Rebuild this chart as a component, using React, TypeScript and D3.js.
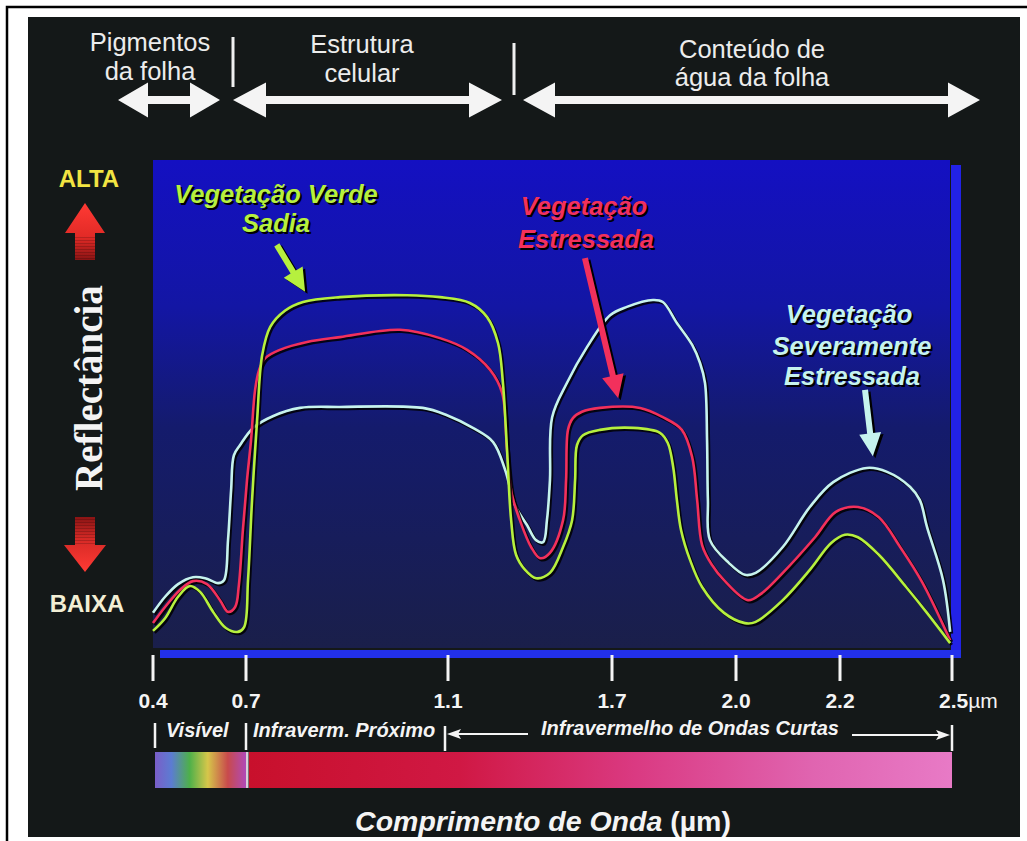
import React from "react";
import * as d3 from "d3";

// Wavelength axis (µm) – the axis is drawn piecewise, ticks are not evenly spaced
const WAVELENGTH_TICKS = [0.4, 0.7, 1.1, 1.7, 2.0, 2.2, 2.5];
const TICK_LABELS = ["0.4", "0.7", "1.1", "1.7", "2.0", "2.2", "2.5"];

// Healthy green vegetation (relative reflectance, 0–100)
const HEALTHY_WL = [0.4, 0.439, 0.481, 0.519, 0.552, 0.594, 0.635, 0.674, 0.694, 0.704, 0.712, 0.722, 0.732, 0.748, 0.777, 0.813, 0.886, 1.019, 1.084, 1.18, 1.243, 1.283, 1.301, 1.316, 1.331, 1.349, 1.382, 1.422, 1.473, 1.521, 1.554, 1.565, 1.572, 1.594, 1.656, 1.751, 1.816, 1.835, 1.848, 1.857, 1.867, 1.889, 1.918, 1.971, 2.017, 2.037, 2.09, 2.142, 2.183, 2.213, 2.248, 2.304, 2.377, 2.433, 2.495];
const HEALTHY_R = [3.5, 6.1, 10.5, 12.7, 11.5, 7.4, 4.1, 3.3, 4.3, 13.9, 30.3, 46.7, 60.0, 65.8, 69.1, 70.9, 71.9, 72.3, 71.9, 70.7, 67.8, 62.5, 54.3, 40.6, 26.2, 19.1, 16.0, 14.3, 15.4, 20.7, 26.2, 34.4, 41.6, 43.6, 44.7, 45.1, 44.1, 42.0, 37.1, 30.3, 24.2, 18.0, 12.5, 7.2, 5.1, 5.3, 9.8, 16.0, 21.5, 23.2, 22.7, 19.1, 12.5, 7.2, 1.0];

// Stressed vegetation
const STRESSED_WL = [0.4, 0.439, 0.487, 0.529, 0.574, 0.616, 0.642, 0.665, 0.677, 0.69, 0.702, 0.71, 0.718, 0.726, 0.738, 0.767, 0.821, 0.886, 1.005, 1.084, 1.17, 1.254, 1.298, 1.316, 1.334, 1.363, 1.404, 1.437, 1.473, 1.521, 1.532, 1.539, 1.557, 1.59, 1.656, 1.768, 1.823, 1.869, 1.894, 1.906, 1.918, 1.942, 1.971, 2.023, 2.048, 2.09, 2.152, 2.192, 2.248, 2.304, 2.361, 2.42, 2.495];
const STRESSED_R = [5.1, 8.4, 11.9, 13.7, 13.1, 9.8, 7.4, 8.4, 12.9, 24.2, 34.4, 42.6, 52.9, 57.0, 59.4, 61.1, 62.7, 63.7, 65.2, 63.5, 61.1, 57.0, 52.3, 40.6, 31.4, 26.2, 20.7, 18.4, 19.5, 26.2, 34.4, 44.7, 47.1, 48.4, 49.2, 49.2, 47.3, 44.7, 39.1, 30.3, 21.1, 17.0, 13.9, 9.8, 11.1, 15.4, 22.7, 27.9, 28.9, 26.8, 20.7, 13.5, 1.6];

// Severely stressed vegetation
const SEVERE_WL = [0.4, 0.439, 0.481, 0.529, 0.568, 0.61, 0.629, 0.642, 0.652, 0.661, 0.681, 0.714, 0.753, 0.807, 0.886, 1.05, 1.098, 1.191, 1.265, 1.309, 1.345, 1.389, 1.422, 1.448, 1.462, 1.473, 1.481, 1.535, 1.609, 1.693, 1.736, 1.799, 1.823, 1.857, 1.894, 1.913, 1.925, 1.93, 1.932, 1.937, 1.983, 2.017, 2.038, 2.09, 2.142, 2.187, 2.272, 2.326, 2.388, 2.414, 2.433, 2.476, 2.495];
const SEVERE_R = [7.2, 10.5, 13.1, 14.5, 14.3, 13.3, 13.9, 22.1, 32.4, 39.5, 41.6, 45.1, 47.5, 49.2, 49.4, 49.2, 47.7, 45.1, 42.2, 36.5, 29.3, 25.2, 22.1, 21.7, 26.2, 34.4, 47.3, 54.3, 61.7, 68.2, 69.9, 71.3, 70.9, 66.6, 62.1, 58.4, 54.3, 42.6, 30.3, 22.1, 17.4, 15.0, 15.4, 20.7, 28.9, 34.0, 36.9, 36.1, 33.0, 30.3, 24.8, 13.9, 3.3];

const SERIES = [
  { name: "Vegetação Severamente Estressada", wl: SEVERE_WL, r: SEVERE_R, color: "#c6f3ee" },
  { name: "Vegetação Estressada", wl: STRESSED_WL, r: STRESSED_R, color: "#f2305c" },
  { name: "Vegetação Verde Sadia", wl: HEALTHY_WL, r: HEALTHY_R, color: "#b6f03e" },
];

const SANS = "'Liberation Sans', Arial, Helvetica, sans-serif";
const SERIF = "'Liberation Serif', 'Times New Roman', serif";

function arrowPoints(x1: number, y1: number, x2: number, y2: number, shaft: number, headW: number, headL: number) {
  const dx = x2 - x1, dy = y2 - y1, L = Math.hypot(dx, dy);
  const ux = dx / L, uy = dy / L, nx = -uy, ny = ux;
  const bx = x2 - ux * headL, by = y2 - uy * headL;
  const pts = [
    [x1 + (nx * shaft) / 2, y1 + (ny * shaft) / 2],
    [bx + (nx * shaft) / 2, by + (ny * shaft) / 2],
    [bx + (nx * headW) / 2, by + (ny * headW) / 2],
    [x2, y2],
    [bx - (nx * headW) / 2, by - (ny * headW) / 2],
    [bx - (nx * shaft) / 2, by - (ny * shaft) / 2],
    [x1 - (nx * shaft) / 2, y1 - (ny * shaft) / 2],
  ];
  return pts.map((p) => p.join(",")).join(" ");
}

function doubleArrow(x1: number, x2: number, y: number, s: number, hw: number, hl: number) {
  const pts = [
    [x1, y], [x1 + hl, y - hw / 2], [x1 + hl, y - s / 2], [x2 - hl, y - s / 2], [x2 - hl, y - hw / 2],
    [x2, y], [x2 - hl, y + hw / 2], [x2 - hl, y + s / 2], [x1 + hl, y + s / 2], [x1 + hl, y + hw / 2],
  ];
  return pts.map((p) => p.join(",")).join(" ");
}

export default function App() {
  const plot = { left: 153, right: 950, top: 160, bottom: 648 };
  const x = d3.scaleLinear().domain(WAVELENGTH_TICKS).range([153, 246, 448, 612, 736, 840, 952]);
  const y = d3.scaleLinear().domain([0, 100]).range([plot.bottom, plot.top]);

  const line = d3
    .line<[number, number]>()
    .x((d) => x(d[0]))
    .y((d) => y(d[1]))
    .curve(d3.curveCatmullRom.alpha(0.5));

  const pathOf = (wl: number[], r: number[]) => line(wl.map((w, i) => [w, r[i]] as [number, number])) || "";

  // annotation arrows anchored in data space
  const annoArrows = [
    { from: [0.761, 82.6], to: [0.817, 73.0], color: "#b6f03e" },
    { from: [1.601, 79.9], to: [1.715, 51.2], color: "#f2305c" },
    { from: [2.267, 52.9], to: [2.288, 39.3], color: "#c6f3ee" },
  ];

  const shadow = "#000000";
  const labelStyle = { fontFamily: SANS, fontWeight: 700, fontStyle: "italic", fontSize: 25.5 } as const;

  const shadowText = (tx: number, ty: number, text: string, color: string, key: string) => (
    <g key={key}>
      <text x={tx + 2} y={ty + 2} textAnchor="middle" fill={shadow} style={labelStyle}>{text}</text>
      <text x={tx} y={ty} textAnchor="middle" fill={color} style={labelStyle}>{text}</text>
    </g>
  );

  const xMid = (x(1.1) + x(2.5)) / 2;

  return (
    <svg width={1027} height={841} style={{ position: "absolute", left: 0, top: 0, display: "block" }}>
      <defs>
        <linearGradient id="plotBg" x1="0" y1="0" x2="0" y2="1">
          <stop offset="0" stopColor="#1410c2" />
          <stop offset="0.3" stopColor="#1316a4" />
          <stop offset="0.55" stopColor="#141b6c" />
          <stop offset="1" stopColor="#1a1f4a" />
        </linearGradient>
        <linearGradient id="visible" x1="0" y1="0" x2="1" y2="0">
          <stop offset="0" stopColor="#7a5ec8" />
          <stop offset="0.18" stopColor="#5c7cd2" />
          <stop offset="0.38" stopColor="#4eb04a" />
          <stop offset="0.58" stopColor="#d6c64a" />
          <stop offset="0.8" stopColor="#c84a4c" />
          <stop offset="1" stopColor="#b04ab8" />
        </linearGradient>
        <linearGradient id="infrared" x1="0" y1="0" x2="1" y2="0">
          <stop offset="0" stopColor="#c8102c" />
          <stop offset="0.3" stopColor="#d01844" />
          <stop offset="0.55" stopColor="#da3a82" />
          <stop offset="0.8" stopColor="#e064b0" />
          <stop offset="1" stopColor="#e87ac6" />
        </linearGradient>
        <linearGradient id="upArrow" x1="0" y1="0" x2="0" y2="1">
          <stop offset="0" stopColor="#ff3a34" />
          <stop offset="0.6" stopColor="#e22a26" />
          <stop offset="1" stopColor="#8a1414" />
        </linearGradient>
        <linearGradient id="downArrow" x1="0" y1="0" x2="0" y2="1">
          <stop offset="0" stopColor="#8a1414" />
          <stop offset="0.4" stopColor="#d62a26" />
          <stop offset="1" stopColor="#ff3a34" />
        </linearGradient>
        <pattern id="stripes" width="4" height="3" patternUnits="userSpaceOnUse">
          <rect width="4" height="1" fill="#000" opacity="0.18" />
        </pattern>
      </defs>

      {/* page frame */}
      <rect x={0} y={0} width={1027} height={841} fill="#ffffff" />
      <rect x={7} y={7} width={1040} height={860} fill="none" stroke="#000" strokeWidth={2.5} />
      <rect x={28} y={17} width={992} height={820} fill="#141818" />

      {/* region headers */}
      <g fill="#ececec" style={{ fontFamily: SANS, fontSize: 25.5 }} textAnchor="middle">
        <text x={150} y={51}>Pigmentos</text>
        <text x={150} y={79.5}>da folha</text>
        <text x={362} y={53}>Estrutura</text>
        <text x={362} y={81.5}>celular</text>
        <text x={752} y={57.5}>Conteúdo de</text>
        <text x={752} y={86}>água da folha</text>
      </g>
      <g fill="#f4f4f4">
        <polygon points={doubleArrow(118, 220, 100, 8, 35, 30)} />
        <polygon points={doubleArrow(233, 502, 100, 8, 35, 33)} />
        <polygon points={doubleArrow(523, 980, 100, 8, 35, 32)} />
      </g>
      <line x1={233} x2={233} y1={37} y2={87} stroke="#f0f0f0" strokeWidth={3} />
      <line x1={514} x2={514} y1={43} y2={95} stroke="#f0f0f0" strokeWidth={3} />

      {/* reflectance axis */}
      <text x={89} y={187} textAnchor="middle" fill="#f2e442" style={{ fontFamily: SANS, fontWeight: 700, fontSize: 24 }}>ALTA</text>
      <text x={87} y={612} textAnchor="middle" fill="#f2eed4" style={{ fontFamily: SANS, fontWeight: 700, fontSize: 24 }}>BAIXA</text>
      <polygon points="85,203 105,233 95,233 95,260 75,260 75,233 65,233" fill="url(#upArrow)" />
      <rect x={75} y={236} width={20} height={24} fill="url(#stripes)" />
      <polygon points="75,517 95,517 95,545 106,545 85,572 64,545 75,545" fill="url(#downArrow)" />
      <rect x={75} y={517} width={20} height={27} fill="url(#stripes)" />
      <text
        transform="translate(102,388) rotate(-90)"
        textAnchor="middle"
        fill="#f4f4f4"
        style={{ fontFamily: SERIF, fontWeight: 700, fontSize: 39 }}
      >
        Reflectância
      </text>

      {/* plotting panel */}
      <rect x={plot.left} y={plot.top} width={plot.right - plot.left} height={plot.bottom - plot.top} fill="url(#plotBg)" />
      <rect x={951} y={165} width={10} height={493} fill="#2222e6" />
      <rect x={160} y={650} width={801} height={8} fill="#2230ea" />

      {/* spectral curves */}
      {SERIES.map((s) => (
        <g key={s.name}>
          <path d={pathOf(s.wl, s.r)} transform="translate(1.6,1.8)" fill="none" stroke="#000" strokeOpacity={0.85} strokeWidth={3} strokeLinejoin="round" />
          <path d={pathOf(s.wl, s.r)} fill="none" stroke={s.color} strokeWidth={2.6} strokeLinejoin="round" />
        </g>
      ))}

      {/* curve annotations */}
      {annoArrows.map((a, i) => {
        const pts = arrowPoints(x(a.from[0]), y(a.from[1]), x(a.to[0]), y(a.to[1]), 6, 22, 23);
        return (
          <g key={i}>
            <polygon points={pts} transform="translate(2.5,2)" fill="#000" />
            <polygon points={pts} fill={a.color} />
          </g>
        );
      })}
      {shadowText(276, 203, "Vegetação Verde", "#b6f03e", "g1")}
      {shadowText(276, 232, "Sadia", "#b6f03e", "g2")}
      {shadowText(584, 215, "Vegetação", "#f2305c", "r1")}
      {shadowText(586, 248, "Estressada", "#f2305c", "r2")}
      {shadowText(849, 323, "Vegetação", "#c6f3ee", "c1")}
      {shadowText(852, 355, "Severamente", "#c6f3ee", "c2")}
      {shadowText(852, 385, "Estressada", "#c6f3ee", "c3")}

      {/* wavelength axis */}
      {WAVELENGTH_TICKS.map((t, i) => (
        <g key={t}>
          <line x1={x(t)} x2={x(t)} y1={655} y2={681} stroke="#f4f4f4" strokeWidth={3} />
          {i < WAVELENGTH_TICKS.length - 1 ? (
            <text x={x(t)} y={708} textAnchor="middle" fill="#f4f4f4" style={{ fontFamily: SANS, fontWeight: 700, fontSize: 21 }}>
              {TICK_LABELS[i]}
            </text>
          ) : (
            <text x={x(t) - 13} y={708} fill="#f4f4f4" style={{ fontFamily: SANS, fontWeight: 700, fontSize: 21 }}>
              {TICK_LABELS[i]}
              <tspan style={{ fontWeight: 400 }}>µm</tspan>
            </text>
          )}
        </g>
      ))}

      {/* spectral regions */}
      <g stroke="#f4f4f4" strokeWidth={2.5}>
        <line x1={x(0.4) + 2} x2={x(0.4) + 2} y1={723} y2={748} />
        <line x1={x(0.7)} x2={x(0.7)} y1={723} y2={750} />
        <line x1={x(1.1) - 3} x2={x(1.1) - 3} y1={726} y2={751} />
        <line x1={x(2.5)} x2={x(2.5)} y1={725} y2={751} />
        <line x1={x(1.1) + 8} x2={528} y1={734} y2={734} strokeWidth={1.8} />
        <line x1={852} x2={x(2.5) - 10} y1={735} y2={735} strokeWidth={1.8} />
      </g>
      <polygon points={`${x(1.1) - 1},734 ${x(1.1) + 13},729 ${x(1.1) + 10},734 ${x(1.1) + 13},739`} fill="#f4f4f4" />
      <polygon points={`${x(2.5) - 2},735 ${x(2.5) - 16},730 ${x(2.5) - 13},735 ${x(2.5) - 16},740`} fill="#f4f4f4" />
      <g fill="#f4f4f4" style={{ fontFamily: SANS, fontWeight: 700, fontStyle: "italic", fontSize: 20 }}>
        <text x={166} y={737}>Visível</text>
        <text x={253} y={737}>Infraverm. Próximo</text>
        <text x={xMid - 10} y={735} textAnchor="middle">Infravermelho de Ondas Curtas</text>
      </g>

      {/* spectrum strip */}
      <rect x={x(0.4) + 2} y={752} width={x(0.7) - x(0.4) - 2} height={36} fill="url(#visible)" />
      <rect x={x(0.7)} y={752} width={2.5} height={36} fill="#d8d0d8" />
      <rect x={x(0.7) + 3} y={752} width={x(2.5) - x(0.7) - 3} height={36} fill="url(#infrared)" />

      {/* axis title */}
      <text x={543} y={831} textAnchor="middle" fill="#f4f4f4" style={{ fontFamily: SANS, fontWeight: 700, fontSize: 28.5 }}>
        <tspan style={{ fontStyle: "italic" }}>Comprimento de Onda</tspan>
        <tspan> (µm)</tspan>
      </text>
    </svg>
  );
}
